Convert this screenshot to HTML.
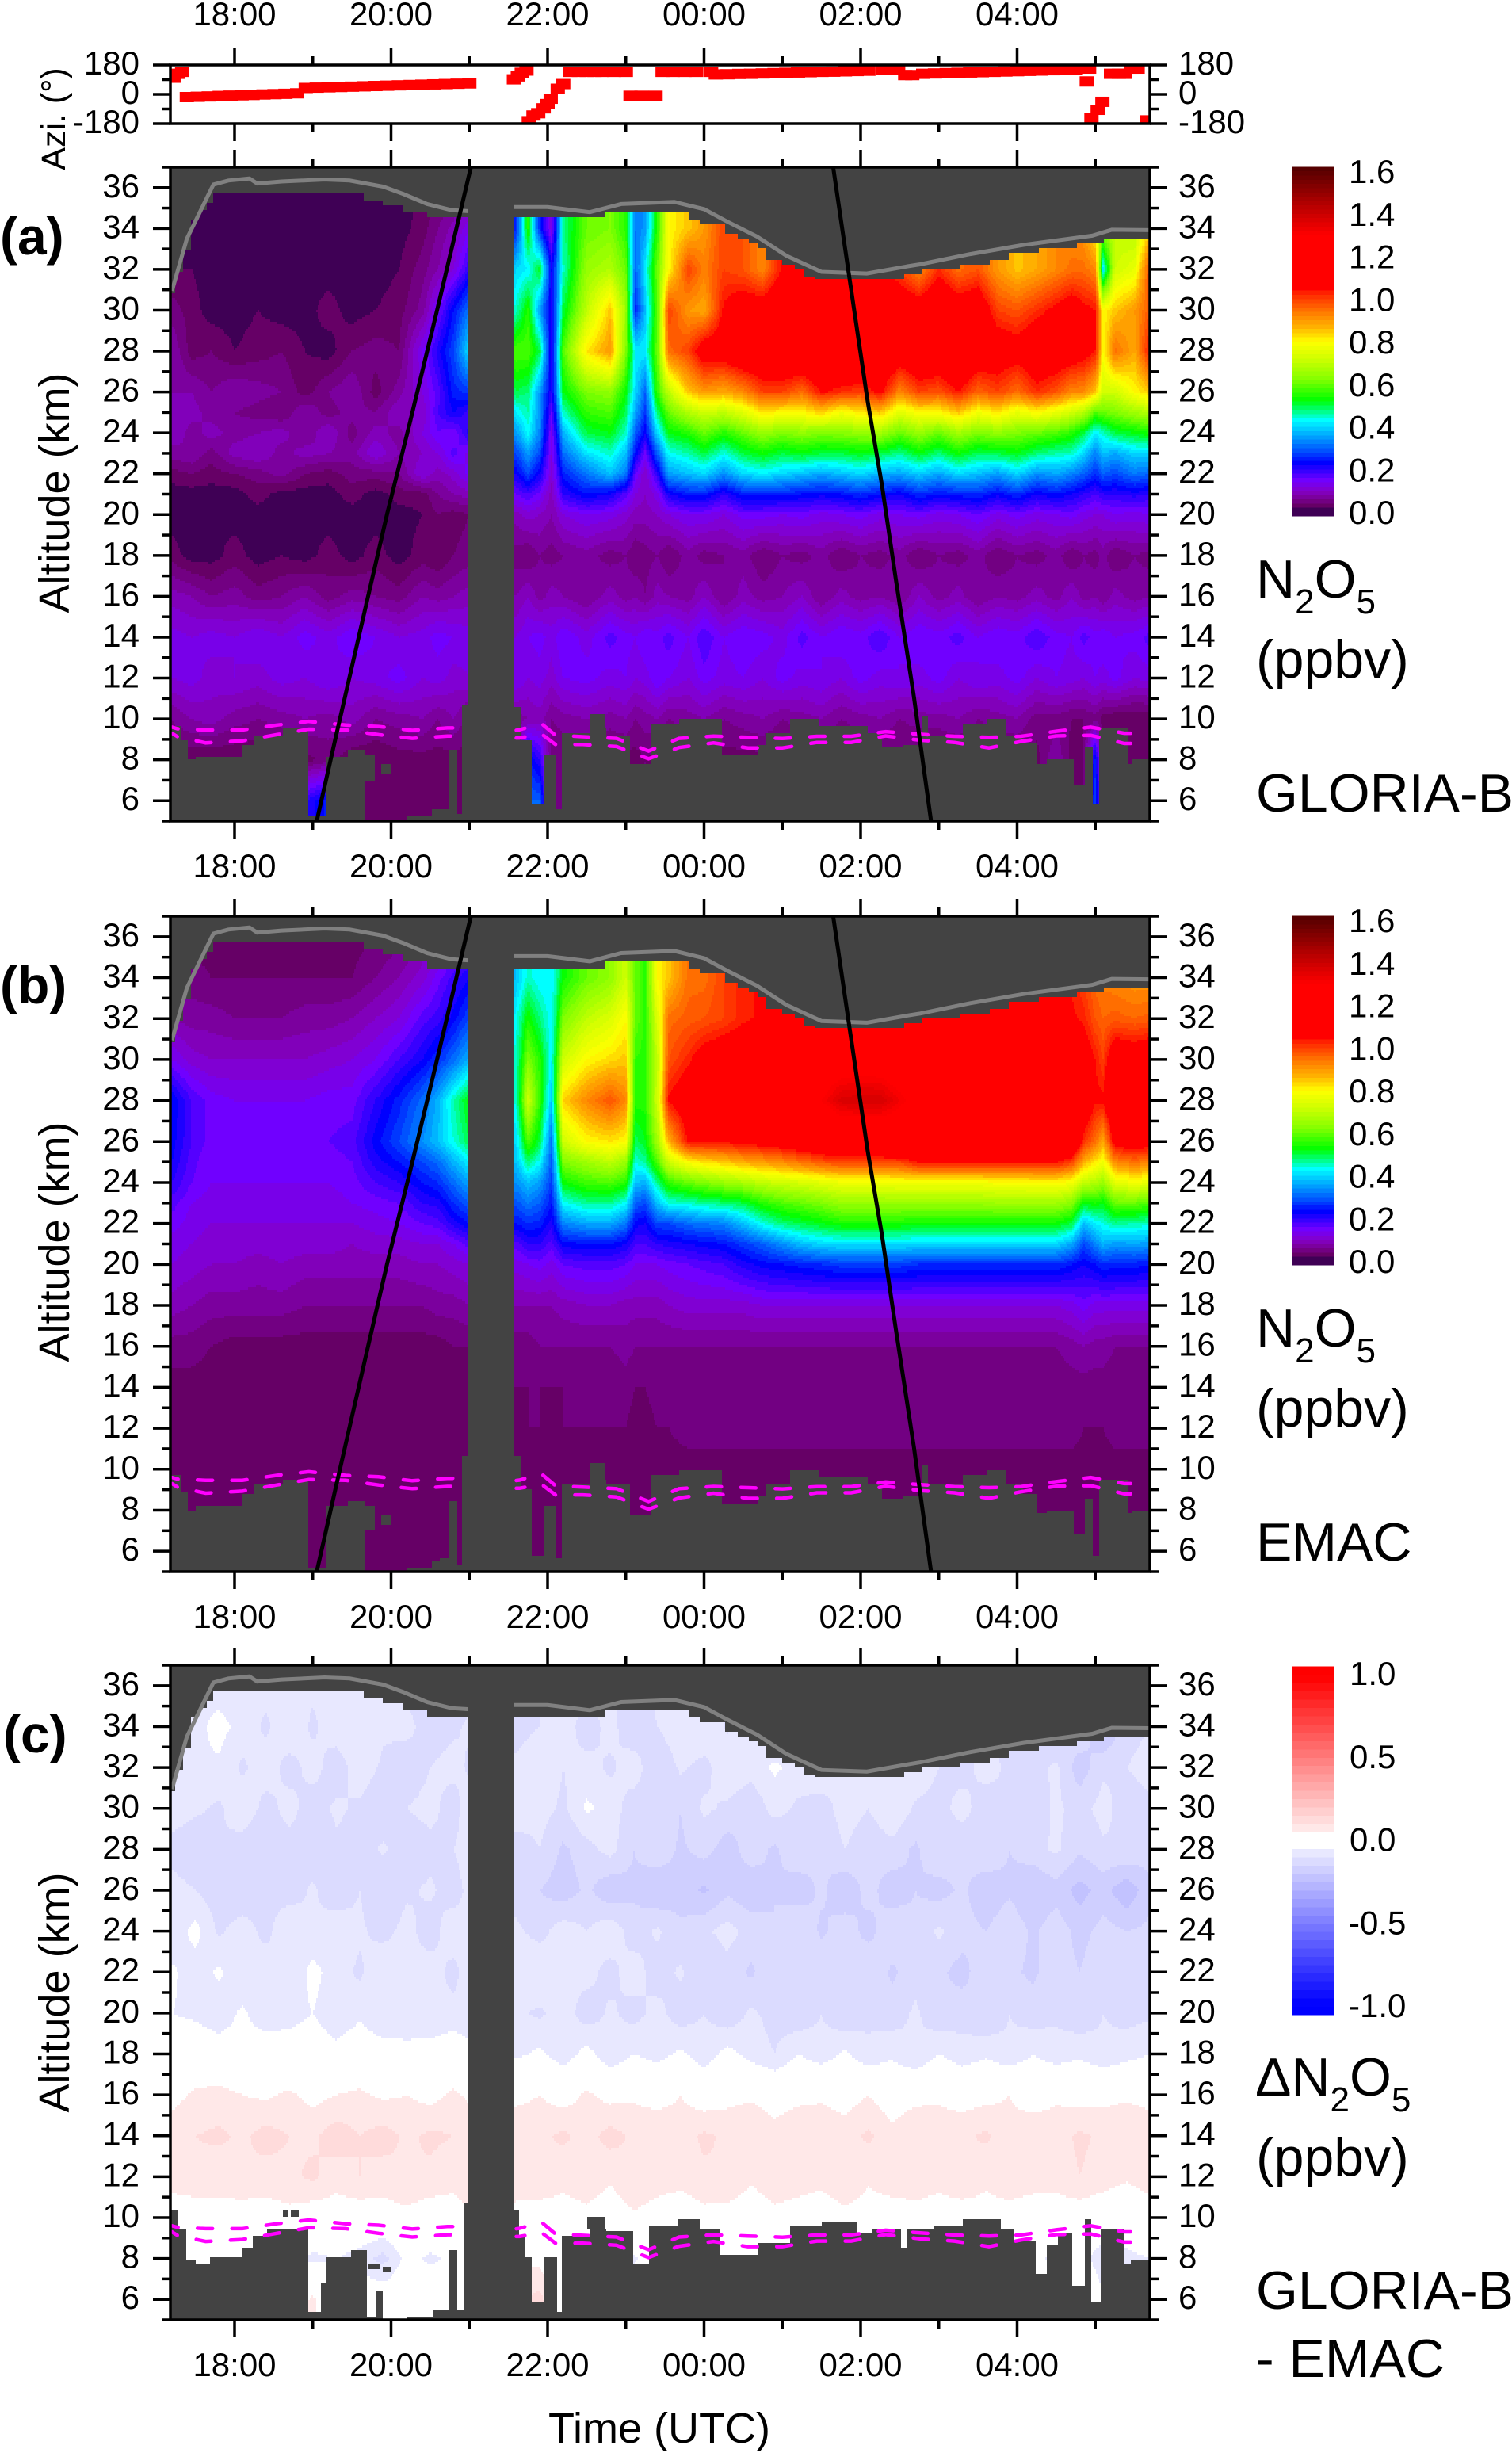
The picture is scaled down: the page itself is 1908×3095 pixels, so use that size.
<!DOCTYPE html>
<html lang="en">
<head>
<meta charset="utf-8">
<title>N2O5 curtains: GLORIA-B and EMAC</title>
<style>
html,body{margin:0;padding:0;background:#fff;}
svg{display:block;font-family:"Liberation Sans",Arial,sans-serif;}
text{fill:#000;}
</style>
</head>
<body>
<svg id="chart" width="1908" height="3095" viewBox="0 0 1908 3095">
  <rect x="0" y="0" width="1908" height="3095" fill="#fff"/>
  <g id="plots"></g>
  <text x="0" y="321" font-size="66" font-weight="bold">(a)</text>
  <text x="0" y="1266" font-size="66" font-weight="bold">(b)</text>
  <text x="4" y="2211" font-size="66" font-weight="bold">(c)</text>
  <text transform="translate(82,150) rotate(-90)" text-anchor="middle" font-size="43">Azi. (°)</text>
  <text transform="translate(87,622) rotate(-90)" text-anchor="middle" font-size="54">Altitude (km)</text>
  <text transform="translate(87,1567) rotate(-90)" text-anchor="middle" font-size="54">Altitude (km)</text>
  <text transform="translate(87,2514) rotate(-90)" text-anchor="middle" font-size="54">Altitude (km)</text>
  <text x="832" y="3082" text-anchor="middle" font-size="54">Time (UTC)</text>
  <text x="1585" y="754" font-size="68">N<tspan font-size="44" dy="20">2</tspan><tspan dy="-20">O</tspan><tspan font-size="44" dy="20">5</tspan></text>
  <text x="1585" y="855" font-size="68">(ppbv)</text>
  <text x="1585" y="1024" font-size="68">GLORIA-B</text>
  <text x="1585" y="1699" font-size="68">N<tspan font-size="44" dy="20">2</tspan><tspan dy="-20">O</tspan><tspan font-size="44" dy="20">5</tspan></text>
  <text x="1585" y="1800" font-size="68">(ppbv)</text>
  <text x="1585" y="1969" font-size="68">EMAC</text>
  <text x="1584" y="2644" font-size="68">&#916;N<tspan font-size="44" dy="20">2</tspan><tspan dy="-20">O</tspan><tspan font-size="44" dy="20">5</tspan></text>
  <text x="1585" y="2745" font-size="68">(ppbv)</text>
  <text x="1585" y="2913" font-size="68">GLORIA-B</text>
  <text x="1585" y="2999" font-size="68">- EMAC</text>
</svg>
<script>
// ---- axis labels ----
const xTickHours = [18,20,22,24,26,28];
const xTickLabels = ['18:00','20:00','22:00','00:00','02:00','04:00'];
const altTickValues = [6,8,10,12,14,16,18,20,22,24,26,28,30,32,34,36];
const aziTickValues = [180,0,-180];
const aziTickLabels = ['180','0','-180'];
const ratioBarLabels = ['0.0','0.2','0.4','0.6','0.8','1.0','1.2','1.4','1.6'];
const ratioBarValues = [0,20,40,60,80,100,120,140,160];
const deltaBarLabels = ['1.0','0.5','0.0','-0.5','-1.0'];
const deltaBarValues = [100,50,0,-50,-100];

// ---- azimuth series (degrees) ----
const aziHours = [17.22,17.28,17.33,17.39,17.53,17.67,17.81,17.95,18.09,18.23,18.37,18.51,18.65,18.8,18.91,19.05,19.2,19.35,19.5,19.65,19.8,19.95,20.1,20.25,20.4,20.55,20.7,20.85,21.0,21.57,21.62,21.67,21.73,21.76,21.82,21.88,21.95,22.0,22.04,22.13,22.2,22.29,22.4,22.5,22.6,22.7,22.85,23.0,23.06,23.2,23.38,23.47,23.6,23.75,23.9,24.09,24.15,24.3,24.45,24.6,24.75,24.9,25.05,25.2,25.35,25.5,25.65,25.8,25.95,26.1,26.29,26.38,26.48,26.57,26.66,26.8,26.95,27.1,27.25,27.4,27.55,27.7,27.85,28.0,28.15,28.3,28.45,28.6,28.75,28.92,28.89,28.95,29.03,29.09,29.2,29.3,29.38,29.46,29.54,29.66];
const aziValues = [102,126,138,-17,-15,-13,-10,-8,-6,-4,-1,1,3,6,39,41,43,45,47,49,51,53,55,57,59,61,63,65,67,92,110,132,146,-165,-130,-116,-86,-60,-27,34,63,138,138,138,138,138,138,138,-9,-9,-9,138,138,138,138,138,122,123,125,126,128,130,132,134,136,138,139,141,143,145,150,150,150,118,118,126,128,130,132,134,136,138,140,142,144,146,148,150,152,158,79,-146,-95,-46,126,126,126,158,158,-160];

// ---- overlay lines ----
const ceilingLineHoursLeft = [17.2,17.39,17.57,17.73,17.92,18.19,18.29,18.6,19.15,19.47,19.9,20.15,20.46,20.77,20.98];
const ceilingLineAltsLeft = [30.95,33.5,34.9,36.15,36.35,36.45,36.2,36.3,36.4,36.35,36.05,35.7,35.2,34.9,34.85];
const ceilingLineHoursRight = [21.57,22.0,22.54,22.94,23.62,24.0,24.28,24.68,25.05,25.5,26.08,26.6,26.76,27.4,28.08,28.96,29.21,29.7];
const ceilingLineAltsRight = [35.05,35.05,34.8,35.2,35.3,34.95,34.37,33.6,32.67,31.88,31.8,32.15,32.25,32.75,33.2,33.65,33.94,33.92];
const terminatorHoursEvening = [21.02,20.6,20.24,19.95,19.67,19.31,19.05];
const terminatorAltsEvening = [37,30.2,24.5,20.05,15.4,9.4,5];
const terminatorHoursMorning = [25.65,25.86,26.09,26.27,26.45,26.68,26.9];
const terminatorAltsMorning = [37,31.5,25.55,21.5,16.85,11.1,5];
const tropopauseHoursLeft = [17.2,17.27,17.63,18.10,18.54,18.95,19.42,19.84,20.27,20.72,20.84];
const tropopauseUpperLeft = [9.6,9.52,9.46,9.46,9.7,9.88,9.7,9.63,9.44,9.56,9.56];
const tropopauseLowerLeft = [9.3,9.13,8.83,8.93,9.23,9.5,9.46,9.23,9.05,9.16,9.16];
const tropopauseHoursRight = [21.6,21.64,21.92,22.1,22.45,22.88,23.29,23.68,24.12,24.56,25.0,25.44,25.88,26.32,26.76,27.2,27.64,28.05,28.5,28.94,29.37,29.45];
const tropopauseUpperRight = [9.45,9.47,9.78,9.2,9.13,9.05,8.43,9.05,9.16,9.1,9.04,9.15,9.15,9.38,9.25,9.15,9.1,9.15,9.4,9.6,9.3,9.3];
const tropopauseLowerRight = [9.07,9.07,9.27,8.75,8.75,8.65,8.05,8.6,8.83,8.58,8.58,8.85,8.85,9.17,8.96,8.85,8.58,8.9,9.17,9.2,8.8,8.8];

// ---- data coverage limits (step profiles) ----
const topHours = [17.2,17.25,17.35,17.45,17.55,17.65,17.73,19.65,19.9,20.15,20.46,20.55,21.57,22.72,23.8,23.95,24.27,24.44,24.57,24.69,24.8,25.0,25.15,25.28,25.43,26.55,26.78,27.26,27.65,27.9,28.28,28.76,29.1];
const topAlts = [30.8,31.9,32.9,34.4,34.9,35.3,35.75,35.4,35.1,34.75,34.5,34.5,34.5,34.75,34.48,34.22,33.77,33.5,33.25,33.0,32.48,32.2,32.03,31.7,31.5,31.75,32.03,32.26,32.5,32.78,33.04,33.27,33.5];
const floorHours = [17.2,17.32,17.4,17.5,18.1,18.25,18.61,18.94,19.16,19.44,19.68,20.19,20.53,20.63,20.74,20.84,20.91,21.57,21.65,21.8,21.95,22.1,22.19,22.54,22.75,23.06,23.32,23.68,24.22,24.69,24.8,25.09,25.46,26.09,26.27,26.54,26.77,26.86,27.31,27.62,27.85,28.08,28.26,28.37,28.73,28.87,28.96,29.05,29.41,29.48];
const floorAlts = [9.7,8.9,8.0,8.2,8.75,9.2,9.5,5.2,8.2,8.45,5.0,5.2,5.55,5.6,8.45,5.3,10.7,10.6,9.0,5.8,8.25,5.6,9.25,9.5,9.2,7.8,9.75,10,8.3,8.7,9.25,9.95,9.65,9.25,8.6,8.7,10.15,9.2,9.75,9.95,9.2,8.8,7.85,8,6.8,8.6,5.8,9.5,7.85,8];
const deltaFloorHours = [17.2,17.29,17.39,17.5,17.68,18.09,18.24,18.42,18.94,19.1,19.17,19.49,19.69,19.9,20.2,20.55,20.75,20.85,20.92,21.57,21.64,21.72,21.8,21.95,22.12,22.19,22.55,22.75,23.09,23.3,23.66,23.95,24.2,24.7,25.09,25.5,25.95,26.16,26.52,26.6,26.95,27.3,27.8,27.95,28.24,28.38,28.52,28.7,28.86,28.95,29.06,29.38,29.45];
const deltaFloorAlts = [10.4,9.4,8.0,7.7,8.1,8.5,9.1,9.4,5.4,6.8,8.1,8.4,5.15,5.0,5.15,5.5,8.4,5.5,10.7,10.4,9.1,8.1,5.85,8.1,5.4,9.15,9.4,9.3,7.7,9.6,9.9,9.5,8.2,8.7,9.6,9.75,9.2,9.4,8.5,9.4,9.6,9.9,9.5,8.85,7.2,8.6,9.2,6.7,9.9,5.8,9.4,7.7,7.9];
const gloriaHoleT0 = [19.67,19.88,22.54];
const gloriaHoleT1 = [19.80,20.0,22.72];
const gloriaHoleA0 = [7.0,7.3,9.5];
const gloriaHoleA1 = [8.25,7.75,10.25];
const deltaHoleT0 = [18.62,18.72,19.72,19.9,19.81,22.5];
const deltaHoleT1 = [18.68,18.82,19.85,20.0,19.89,22.72];
const deltaHoleA0 = [10.05,10.0,7.45,7.35,5.0,9.5];
const deltaHoleA1 = [10.4,10.4,7.7,7.6,6.4,10.0];

// ---- N2O5 curtains: hundredths of ppbv, one profile per time column ----
const profileHours = [17.2,17.45,17.7,18.0,18.3,18.6,18.9,19.2,19.5,19.8,20.1,20.4,20.6,20.8,21.0,21.6,21.75,21.9,22.05,22.2,22.5,22.8,23.0,23.12,23.25,23.4,23.55,23.8,24.0,24.25,24.5,24.75,25.0,25.25,25.5,25.75,26.0,26.25,26.5,26.75,27.0,27.25,27.5,27.75,28.0,28.25,28.5,28.7,28.85,29.0,29.1,29.25,29.5,29.7];
const profileAlts = [6,8,10,12,14,16,18,20,21,22,23,24,25,26,28,30,32,34,36];
const gloriaProfiles = [
[4,4,6,12,13,9,3,1,1,3,7,10,9,8,8,5,2,1,1],
[3,2,8,13,12,8,1,1,1,4,8,7,9,8,3,3,2,1,1],
[3,2,9,11,13,6,1,2,1,3,5,9,7,6,4,1,1,1,1],
[2,2,7,12,12,7,3,1,1,4,9,7,6,8,2,1,1,1,1],
[2,2,6,11,14,5,1,1,3,5,10,8,5,7,3,2,1,1,1],
[2,2,7,13,12,6,2,1,1,7,7,9,4,6,4,1,2,1,1],
[20,3,8,12,15,8,1,1,1,4,9,6,8,3,2,1,1,1,1],
[25,5,7,14,13,5,3,1,1,3,8,10,5,6,1,3,1,1,1],
[2,2,9,12,16,7,1,1,3,5,7,5,7,8,4,1,1,1,1],
[3,2,6,13,14,6,3,1,1,5,12,9,6,3,5,2,1,1,1],
[3,3,7,15,12,5,1,1,3,6,8,7,10,7,4,3,2,1,1],
[3,3,8,12,13,8,3,2,3,12,10,12,10,12,14,7,5,3,2],
[3,3,6,13,15,7,2,4,6,9,12,16,18,17,21,15,8,6,3],
[3,3,8,11,14,8,4,3,8,11,17,14,22,25,28,24,12,9,4],
[3,3,5,12,13,9,5,4,9,15,13,21,19,27,41,32,20,14,5],
[4,4,7,14,12,8,5,9,16,22,28,35,42,50,58,45,40,25,25],
[30,25,8,12,14,10,4,11,18,28,35,43,46,48,58,55,42,55,55],
[30,20,9,13,15,7,6,10,15,22,28,33,34,35,50,35,52,25,25],
[4,4,6,11,13,9,5,8,9,11,12,13,16,20,20,20,22,12,12],
[6,4,7,14,16,8,6,12,20,25,31,37,45,52,58,50,45,47,47],
[3,3,8,15,13,6,7,14,24,32,41,50,56,62,82,70,65,60,60],
[3,3,7,13,17,9,5,13,22,38,45,52,58,64,90,85,68,62,62],
[4,3,8,14,15,7,6,11,17,32,38,45,49,53,62,65,60,55,55],
[4,3,6,12,14,8,4,9,12,16,24,30,36,40,42,25,30,32,32],
[5,4,7,13,16,6,5,9,10,10,15,22,26,30,42,38,42,35,35],
[4,3,8,16,15,9,6,10,13,20,30,40,48,56,60,58,60,55,55],
[3,3,6,14,17,8,4,12,22,35,43,52,60,70,95,100,80,80,80],
[3,3,7,12,14,7,7,14,25,38,46,55,68,85,100,90,100,85,85],
[3,3,8,15,18,10,5,14,25,40,50,60,72,90,110,88,93,90,90],
[3,3,6,13,14,6,6,12,20,34,44,55,70,88,110,105,100,100,100],
[3,3,7,14,16,9,7,15,25,40,50,60,75,92,115,110,98,98,98],
[3,3,8,12,15,7,4,15,25,42,53,65,82,100,115,110,92,92,92],
[3,3,6,15,13,8,6,14,25,40,50,62,80,100,115,115,105,105,105],
[3,3,7,13,17,10,5,15,24,38,52,64,80,95,118,115,110,110,110],
[3,3,8,14,14,6,7,13,23,36,50,62,84,105,115,118,108,108,108],
[3,3,6,12,16,9,4,14,24,38,50,63,78,102,118,116,105,105,105],
[3,3,7,15,15,7,6,15,26,40,52,64,82,100,120,118,108,108,108],
[3,3,8,13,18,8,5,13,24,37,50,66,85,106,116,115,104,104,104],
[3,3,6,14,14,6,7,14,22,36,47,60,75,92,112,112,100,100,100],
[3,3,7,13,16,10,4,15,26,39,52,65,80,100,115,110,92,92,92],
[3,3,7,15,15,7,6,13,24,36,48,60,80,98,114,115,102,102,102],
[3,3,8,12,17,9,5,14,25,40,53,66,85,104,118,110,95,95,95],
[3,3,6,14,14,6,7,16,26,38,49,62,78,96,112,112,98,98,98],
[3,3,7,13,16,8,4,13,23,35,50,64,82,100,110,100,90,90,90],
[3,3,8,15,15,7,6,15,26,40,52,62,76,95,108,98,85,85,85],
[4,3,5,12,18,9,5,13,22,34,48,60,80,102,112,102,88,88,88],
[7,8,5,14,15,7,7,14,24,36,46,58,76,98,112,106,92,92,92],
[3,3,4,13,14,10,4,15,22,33,45,55,72,92,110,110,95,92,92],
[4,4,4,12,17,7,6,13,20,30,40,50,68,92,108,106,95,90,90],
[28,25,5,14,15,8,5,12,18,26,33,42,58,85,104,104,92,80,80],
[5,3,3,13,16,6,7,12,20,30,38,45,60,72,80,80,40,65,65],
[3,2,2,15,14,9,4,14,20,28,36,50,62,72,95,85,72,70,70],
[2,2,2,12,15,7,6,13,21,32,40,52,66,80,88,90,76,68,68],
[2,2,2,13,17,8,5,14,20,30,40,54,68,85,105,98,100,85,85]
];
const emacProfiles = [
[3,3,3,3,3,5,9,12,13,15,17,20,22,23,24,14,8,5,4],
[3,3,3,3,3,5,8,11,12,13,14,16,17,18,18,11,7,5,3],
[3,3,3,3,3,4,7,10,11,12,13,14,14,15,15,10,7,4,3],
[3,3,3,3,3,3,7,10,11,12,13,14,15,15,14,10,6,4,3],
[3,3,3,3,3,3,7,9,11,12,13,14,15,15,14,10,6,4,3],
[3,3,3,3,3,3,7,10,11,12,13,14,15,15,14,10,6,4,3],
[3,3,3,3,3,3,6,9,11,12,13,14,15,15,14,10,7,4,3],
[3,3,3,3,3,3,6,9,11,12,13,14,15,16,15,11,7,4,3],
[3,3,3,3,3,3,6,9,10,12,14,15,16,17,15,12,8,4,3],
[3,3,3,3,3,3,6,9,11,13,15,18,21,23,20,14,10,6,4],
[3,3,3,3,3,3,6,9,11,14,16,20,24,28,25,18,12,8,5],
[3,3,3,3,3,3,6,10,12,16,20,24,28,34,31,22,17,11,8],
[3,3,3,3,3,3,7,10,12,17,21,26,31,38,37,26,19,15,9],
[3,3,3,3,3,4,7,11,14,21,26,31,37,44,46,31,23,19,12],
[3,3,3,3,3,4,8,12,17,24,30,36,42,50,53,37,28,22,15],
[3,3,3,3,4,5,8,13,17,24,29,34,38,40,44,45,43,38,38],
[3,3,3,4,4,5,8,14,20,26,32,38,48,58,72,62,54,45,45],
[3,3,3,4,4,6,8,15,20,25,30,35,43,50,56,55,48,42,42],
[3,3,3,3,4,6,8,13,17,21,24,27,29,31,38,42,42,42,42],
[3,3,3,4,4,6,9,16,23,33,43,53,62,72,84,72,62,53,53],
[3,3,3,4,4,6,10,17,24,36,47,57,66,80,92,80,70,60,60],
[3,3,3,4,4,6,10,17,24,36,47,58,70,82,98,83,74,64,64],
[3,3,3,4,5,7,9,16,22,32,43,55,65,80,92,85,80,72,72],
[3,3,3,3,4,6,9,14,18,23,30,38,44,49,55,56,60,60,60],
[3,3,3,3,4,6,9,14,18,22,28,37,47,52,55,55,55,55,55],
[3,3,3,4,5,6,9,14,20,28,38,47,58,66,72,70,74,80,80],
[3,3,3,4,5,6,10,15,21,28,44,56,72,87,105,98,95,85,85],
[3,3,3,5,5,6,11,16,22,31,45,60,80,105,110,103,97,95,95],
[3,3,3,5,5,6,11,17,23,32,47,62,83,105,112,108,98,95,95],
[3,3,3,5,5,6,11,18,24,33,48,65,85,105,115,110,100,100,100],
[3,3,3,5,5,6,11,21,27,38,50,67,88,107,118,112,103,103,103],
[3,3,3,5,5,6,12,23,30,44,55,70,90,108,120,114,105,105,105],
[3,3,3,5,5,6,12,24,34,48,58,72,92,110,122,116,108,108,108],
[3,3,3,5,5,6,12,25,38,50,60,73,95,112,125,118,110,110,110],
[3,3,3,5,5,6,12,26,40,52,62,75,98,115,130,122,112,112,112],
[3,3,3,5,5,6,12,27,41,54,65,77,100,118,137,124,113,113,113],
[3,3,3,5,5,6,12,27,41,54,65,77,100,118,138,125,113,113,113],
[3,3,3,5,5,6,12,27,41,54,65,77,100,118,138,124,113,113,113],
[3,3,3,5,5,6,12,27,41,54,65,78,100,120,132,122,112,112,112],
[3,3,3,5,5,6,12,26,40,53,65,78,105,120,125,120,110,110,110],
[3,3,3,5,5,6,12,26,40,53,65,78,105,120,127,121,110,110,110],
[3,3,3,5,5,6,12,26,40,53,65,78,105,120,128,122,111,111,111],
[3,3,3,5,5,6,12,26,40,53,65,78,105,120,127,121,110,110,110],
[3,3,3,5,5,6,12,26,40,53,66,79,105,120,125,120,110,110,110],
[3,3,3,5,5,6,12,26,40,53,66,79,105,120,125,120,110,108,108],
[3,3,3,5,5,6,12,26,40,53,66,80,105,120,124,120,110,108,108],
[3,3,3,5,5,6,12,26,40,53,66,80,105,120,124,120,110,108,108],
[3,3,3,5,5,7,13,24,36,50,63,78,100,118,122,118,105,103,103],
[3,3,3,4,5,8,15,22,28,38,52,70,88,102,112,110,103,100,100],
[3,3,3,4,5,7,13,24,33,42,54,68,82,95,105,104,98,95,95],
[3,3,3,4,5,7,13,26,37,44,52,65,78,88,105,100,96,93,93],
[3,3,3,5,5,6,13,25,35,47,60,75,92,108,118,112,97,92,92],
[3,3,3,5,5,6,13,25,36,46,60,78,95,110,115,110,96,90,90],
[3,3,3,5,5,6,13,24,35,45,58,76,93,108,116,112,97,90,90]
];

// ---- difference curtain: hundredths of ppbv ----
const deltaHours = [17.2,17.5,17.8,18.1,18.4,18.7,19,19.3,19.6,19.9,20.2,20.5,20.8,21,21.6,21.9,22.2,22.5,22.8,23.1,23.4,23.7,24,24.3,24.6,24.9,25.2,25.5,25.8,26.1,26.4,26.7,27,27.3,27.6,27.9,28.2,28.5,28.8,29.1,29.4,29.7];
const deltaAlts = [6,8,10,12,14,16,18,20,22,24,26,28,30,32,34,36];
const deltaProfiles = [
[0,0,2,7,8,3,-2,-5,-4,-9,-8,-12,-7,-6,-6,-6],
[-2,-3,1,9,10,6,-1,-6,-8,-3,-10,-14,-9,-5,-7,-6],
[0,-5,3,7,11,7,-2,-8,-4,-11,-13,-10,-11,-6,-3,-8],
[0,-4,1,10,9,5,-3,-4,-10,-7,-15,-13,-6,-11,-7,-9],
[0,-3,2,8,12,4,0,-9,-6,-12,-11,-15,-12,-7,-11,-8],
[0,-4,3,9,10,6,-2,-7,-10,-5,-13,-12,-8,-12,-6,-7],
[6,-6,1,11,9,3,-1,-5,-3,-10,-9,-14,-13,-8,-11,-9],
[0,-5,2,7,13,5,-3,-9,-8,-6,-14,-11,-9,-13,-7,-6],
[0,-7,1,10,10,6,-1,-6,-11,-9,-10,-13,-11,-7,-6,-8],
[0,-12,2,8,12,4,-2,-10,-5,-12,-15,-9,-14,-11,-9,-7],
[0,-3,3,10,9,5,-4,-7,-9,-8,-11,-14,-10,-14,-8,-12],
[0,-6,1,9,11,3,-2,-10,-7,-13,-9,-12,-8,-10,-13,-14],
[0,-4,2,7,10,6,-1,-8,-12,-6,-13,-10,-13,-8,-11,-13],
[0,-3,4,9,8,4,-3,-9,-6,-10,-8,-7,-6,-11,-9,-13],
[8,5,3,8,10,3,-6,-9,-6,-9,-12,-14,-5,-9,-12,-12],
[12,3,1,10,9,5,-4,-11,-5,-12,-15,-10,-8,-6,-10,-10],
[0,-2,2,7,11,2,-8,-7,-9,-7,-18,-16,-11,-10,-7,-8],
[0,-3,3,9,8,6,-3,-13,-8,-10,-14,-12,-4,-8,-13,-6],
[0,-4,1,6,12,3,-9,-9,-12,-6,-19,-8,-7,-11,-8,-10],
[0,-6,4,10,9,4,-5,-12,-7,-13,-16,-15,-13,-7,-14,-12],
[0,0,2,8,10,2,-7,-8,-13,-9,-20,-11,-10,-15,-10,-9],
[0,0,1,7,8,5,-4,-13,-9,-14,-17,-16,-15,-9,-6,-5],
[0,0,3,9,11,1,-8,-10,-15,-11,-21,-13,-9,-12,-5,-7],
[0,-3,2,10,9,3,-3,-14,-12,-8,-16,-18,-11,-6,-11,-11],
[0,-4,1,6,10,4,-7,-9,-16,-12,-19,-12,-14,-8,-6,-6],
[0,0,3,9,7,2,-10,-12,-10,-15,-15,-16,-8,-4,-11,-11],
[0,0,2,8,10,3,-5,-14,-14,-10,-18,-11,-11,-7,-7,-7],
[0,0,1,7,9,4,-8,-10,-11,-16,-14,-15,-13,-5,-6,-6],
[0,0,3,10,8,2,-4,-15,-15,-12,-19,-10,-7,-11,-11,-11],
[0,-3,2,6,11,5,-9,-11,-10,-17,-13,-14,-10,-7,-7,-7],
[0,-4,1,9,7,1,-6,-13,-16,-11,-18,-12,-5,-9,-9,-9],
[0,-3,3,8,10,3,-10,-9,-12,-14,-15,-16,-11,-6,-6,-6],
[0,0,2,7,8,4,-5,-14,-14,-9,-17,-11,-12,-10,-10,-10],
[0,0,1,10,9,2,-8,-12,-17,-13,-14,-14,-8,-12,-12,-12],
[0,0,3,6,11,3,-6,-15,-11,-15,-19,-10,-13,-8,-8,-8],
[0,0,2,9,7,5,-9,-10,-14,-11,-16,-15,-10,-11,-14,-14],
[0,-4,1,8,10,1,-5,-13,-16,-16,-20,-12,-13,-12,-10,-10],
[0,-6,2,7,8,4,-8,-11,-12,-12,-17,-9,-9,-9,-16,-16],
[5,-3,1,10,11,2,-6,-14,-15,-17,-22,-14,-12,-18,-10,-10],
[-5,-8,0,8,9,3,-9,-10,-11,-13,-18,-11,-8,-11,-22,-22],
[0,-6,-2,6,10,4,-7,-12,-14,-15,-24,-10,-13,-10,-12,-12],
[0,-5,0,9,8,3,-5,-11,-10,-14,-16,-13,-11,-8,-10,-10]
];

// ---- geometry + scales ----
const plotLeft = 215, plotRight = 1451;
const svgURI = document.getElementById('chart').namespaceURI;
const plots = document.getElementById('plots');
function xOf(h){ return 296 + (h - 18) * 98.75; }
function hourOf(x){ return 18 + (x - 296) / 98.75; }
function yOfAlt(a, top, bot){ return top + (37 - a) * (bot - top) / 32; }
function altOfY(y, top, bot){ return 37 - (y - top) * 32 / (bot - top); }
function yOfAzi(d){ return 119 - d * 37 / 180; }
function mk(tag, attrs, parent){
  const e = document.createElementNS(svgURI, tag);
  for (const k in attrs) e.setAttribute(k, attrs[k]);
  (parent || plots).appendChild(e);
  return e;
}
function stepAt(hs, vs, t){
  let v = vs[0];
  for (let i = 0; i < hs.length; i++) { if (hs[i] <= t) v = vs[i]; else break; }
  return v;
}
function lowerIndex(arr, v){
  let i = 0;
  while (i < arr.length - 2 && arr[i + 1] <= v) i++;
  return i;
}
function sampleGrid(hours, alts, profiles, t, a){
  const i = lowerIndex(hours, t), j = lowerIndex(alts, a);
  let ft = (t - hours[i]) / (hours[i + 1] - hours[i]);
  let fa = (a - alts[j]) / (alts[j + 1] - alts[j]);
  ft = Math.max(0, Math.min(1, ft));
  fa = Math.max(0, Math.min(1, fa));
  const p = profiles[i], q = profiles[i + 1];
  const v0 = p[j] * (1 - fa) + p[j + 1] * fa;
  const v1 = q[j] * (1 - fa) + q[j + 1] * fa;
  return v0 * (1 - ft) + v1 * ft;
}

// ---- colour scales ----
const ratioStopValues = [0,1.5,3,6,10,15,23,30,38,43,47,52.5,62,72,80,87,93,100,103,103.5,130,145,162];
const ratioStopColors = ['#3f0055','#3f0055','#660066','#780090','#8400c8','#7000ff','#0000ff','#0060ff','#00c0ff','#00ffff','#00ff90','#00ff00','#80ff00','#d0ff00','#ffff00','#ffb000','#ff8000','#ff4000','#ff2000','#ff0000','#ff0000','#b00000','#500000'];
function hexRGB(h){ return [parseInt(h.substr(1,2),16), parseInt(h.substr(3,2),16), parseInt(h.substr(5,2),16)]; }
function ratioColor(v){
  if (v <= ratioStopValues[0]) return ratioStopColors[0];
  for (let i = 1; i < ratioStopValues.length; i++) {
    if (v <= ratioStopValues[i]) {
      const f = (v - ratioStopValues[i-1]) / (ratioStopValues[i] - ratioStopValues[i-1]);
      const a = hexRGB(ratioStopColors[i-1]), b = hexRGB(ratioStopColors[i]);
      return 'rgb(' + Math.round(a[0]+(b[0]-a[0])*f) + ',' + Math.round(a[1]+(b[1]-a[1])*f) + ',' + Math.round(a[2]+(b[2]-a[2])*f) + ')';
    }
  }
  return ratioStopColors[ratioStopColors.length - 1];
}
function ratioLevel(v){ return Math.floor(v / 2) * 2 + 1; }
function deltaLevel(v){
  const q = Math.abs(v);
  if (q < 5) return 0;
  return (v < 0 ? -1 : 1) * (Math.floor(q / 5) * 5 + 4);
}
function deltaColor(l){
  const f = Math.min(1, Math.abs(l) / 100), c = Math.round(255 * (1 - f));
  if (l === 0) return '#ffffff';
  return l > 0 ? 'rgb(255,' + c + ',' + c + ')' : 'rgb(' + c + ',' + c + ',255)';
}

// ---- curtain drawing: one path per contour level ----
function drawCurtain(top, bot, hours, alts, profiles, floorH, floorA, hT0, hT1, hA0, hA1, levelOf, colorOf){
  const bg = mk('rect', {x: plotLeft, y: top, width: plotRight - plotLeft, height: bot - top, fill: '#434343'});
  
  
  const bands = new Map();
  const cw = 2, ch = 3;
  for (let y = top; y < bot; y += ch) {
    const a = altOfY(y + ch / 2, top, bot);
    let cur = null, start = 0;
    const flush = function(xEnd){
      if (cur === null) return;
      bands.set(cur, (bands.get(cur) || '') + 'M' + start + ' ' + y + 'h' + (xEnd - start) + 'v' + ch + 'h' + (start - xEnd) + 'z');
    };
    for (let x = plotLeft; x < plotRight; x += cw) {
      const t = hourOf(x + cw / 2);
      let ok = (t <= 20.98) || (t >= 21.575);
      if (ok && a > stepAt(topHours, topAlts, t)) ok = false;
      if (ok && a < stepAt(floorH, floorA, t)) ok = false;
      if (ok) {
        for (let k = 0; k < hT0.length; k++) {
          if (t >= hT0[k] && t <= hT1[k] && a >= hA0[k] && a <= hA1[k]) { ok = false; break; }
        }
      }
      const lvl = ok ? levelOf(sampleGrid(hours, alts, profiles, t, a)) : null;
      if (lvl !== cur) { flush(x); cur = lvl; start = x; }
    }
    flush(plotRight);
  }
  const g = mk('g', {});
  
  
  bands.forEach(function(d, lvl){
    const p = mk('path', {d: d, fill: colorOf(lvl), 'shape-rendering': 'crispEdges'}, g);
    
    
  });
}
function linePath(hs, as, top, bot){
  let d = '';
  for (let i = 0; i < hs.length; i++) d += (i ? 'L' : 'M') + xOf(hs[i]).toFixed(1) + ' ' + yOfAlt(as[i], top, bot).toFixed(1);
  return d;
}
function drawOverlays(top, bot, withTerminator){
  const up1 = mk('path', {d: linePath(tropopauseHoursLeft, tropopauseUpperLeft, top, bot), fill: 'none', stroke: '#ff00ff', 'stroke-width': 4.5, 'stroke-linecap': 'round', 'stroke-dasharray': '19 24.5', 'stroke-dashoffset': 11});
  
  
  const lo1 = mk('path', {d: linePath(tropopauseHoursLeft, tropopauseLowerLeft, top, bot), fill: 'none', stroke: '#ff00ff', 'stroke-width': 4.5, 'stroke-linecap': 'round', 'stroke-dasharray': '19 24.5', 'stroke-dashoffset': 11});
  
  
  const up2 = mk('path', {d: linePath(tropopauseHoursRight, tropopauseUpperRight, top, bot), fill: 'none', stroke: '#ff00ff', 'stroke-width': 4.5, 'stroke-linecap': 'round', 'stroke-dasharray': '19 24.5', 'stroke-dashoffset': 8});
  
  
  const lo2 = mk('path', {d: linePath(tropopauseHoursRight, tropopauseLowerRight, top, bot), fill: 'none', stroke: '#ff00ff', 'stroke-width': 4.5, 'stroke-linecap': 'round', 'stroke-dasharray': '19 24.5', 'stroke-dashoffset': 8});
  
  
  const c1 = mk('path', {d: linePath(ceilingLineHoursLeft, ceilingLineAltsLeft, top, bot), fill: 'none', stroke: '#808080', 'stroke-width': 5});
  
  
  const c2 = mk('path', {d: linePath(ceilingLineHoursRight, ceilingLineAltsRight, top, bot), fill: 'none', stroke: '#808080', 'stroke-width': 5});
  
  
  if (withTerminator) {
    const t1 = mk('path', {d: linePath(terminatorHoursEvening, terminatorAltsEvening, top, bot), fill: 'none', stroke: '#000', 'stroke-width': 5});
    
    
    const t2 = mk('path', {d: linePath(terminatorHoursMorning, terminatorAltsMorning, top, bot), fill: 'none', stroke: '#000', 'stroke-width': 5});
    
    
  }
}
function tick(x1, y1, x2, y2){
  const l = mk('line', {x1: x1, y1: y1, x2: x2, y2: y2, stroke: '#000', 'stroke-width': 3.5});
  
  
}
function drawFrame(top, bot){
  const r = mk('rect', {x: plotLeft, y: top, width: plotRight - plotLeft, height: bot - top, fill: 'none', stroke: '#000', 'stroke-width': 3.5});
  
  
  for (let h = 18; h <= 29; h++) {
    const len = h % 2 === 0 ? 22 : 11, x = xOf(h);
    tick(x, top, x, top - len);
    tick(x, bot, x, bot + len);
  }
}
function drawXLabels(y){
  xTickHours.forEach(function(h, i){
    const t = mk('text', {x: xOf(h), y: y, 'text-anchor': 'middle', 'font-size': 42});
    t.textContent = xTickLabels[i];
    
    
  });
}
function drawAltAxis(top, bot){
  for (let a = 5; a <= 37; a++) {
    const len = a % 2 === 0 ? 22 : 11, y = yOfAlt(a, top, bot);
    tick(plotLeft, y, plotLeft - len, y);
    tick(plotRight, y, plotRight + len, y);
  }
  altTickValues.forEach(function(a){
    const y = yOfAlt(a, top, bot) + 12;
    const t = mk('text', {x: 176, y: y, 'text-anchor': 'end', 'font-size': 42});
    t.textContent = String(a);
    
    
    const u = mk('text', {x: 1487, y: y, 'font-size': 42});
    u.textContent = String(a);
    
    
  });
}
function drawRatioBar(offset){
  function cy(v){ return offset + 646 - (v / 160) * 430; }
  for (let lvl = -1; lvl <= 161; lvl += 2) {
    const r = mk('rect', {x: 1630, y: cy(lvl + 1), width: 54, height: cy(lvl - 1) - cy(lvl + 1), fill: ratioColor(lvl), 'shape-rendering': 'crispEdges'});
    
    
  }
  ratioBarValues.forEach(function(v, i){
    const t = mk('text', {x: 1702, y: cy(v) + 15, 'font-size': 42});
    t.textContent = ratioBarLabels[i];
    
    
  });
}
function drawDeltaBar(){
  function cy(v){ return 2322.5 - (v / 100) * 209.5; }
  for (let v = -105; v < 105; v += 5) {
    const r = mk('rect', {x: 1630, y: cy(v + 5), width: 54, height: cy(v) - cy(v + 5), fill: deltaColor(deltaLevel(v + 2.5)), 'shape-rendering': 'crispEdges'});
    
    
  }
  deltaBarValues.forEach(function(v, i){
    const t = mk('text', {x: v < 0 ? 1702 : 1703, y: cy(v) + 13, 'font-size': 42});
    t.textContent = deltaBarLabels[i];
    
    
  });
}

// ---- azimuth strip ----
(function(){
  const top = 82, bot = 156;
  const clip = mk('clipPath', {id: 'azi-clip'});
  mk('rect', {x: plotLeft, y: top, width: plotRight - plotLeft, height: bot - top}, clip);
  const g = mk('g', {'clip-path': 'url(#azi-clip)'});
  
  
  aziHours.forEach(function(h, i){
    const m = mk('rect', {x: xOf(h) - 9, y: yOfAzi(aziValues[i]) - 6.5, width: 18, height: 13, fill: '#ff0000'}, g);
    
    
  });
  drawFrame(top, bot);
  drawXLabels(32);
  [180, 90, 0, -90, -180].forEach(function(d){
    const len = d % 180 === 0 ? 22 : 11, y = yOfAzi(d);
    tick(plotLeft, y, plotLeft - len, y);
    tick(plotRight, y, plotRight + len, y);
  });
  aziTickValues.forEach(function(d, i){
    const y = yOfAzi(d) + 12;
    const t = mk('text', {x: 176, y: y, 'text-anchor': 'end', 'font-size': 42});
    t.textContent = aziTickLabels[i];
    
    
    const u = mk('text', {x: 1487, y: y, 'font-size': 42});
    u.textContent = aziTickLabels[i];
    
    
  });
})();

// ---- panels ----
drawCurtain(211, 1036, profileHours, profileAlts, gloriaProfiles, floorHours, floorAlts, gloriaHoleT0, gloriaHoleT1, gloriaHoleA0, gloriaHoleA1, ratioLevel, ratioColor);
drawOverlays(211, 1036, true);
drawFrame(211, 1036);
drawAltAxis(211, 1036);
drawXLabels(1107);
drawRatioBar(0);

drawCurtain(1156, 1983, profileHours, profileAlts, emacProfiles, floorHours, floorAlts, gloriaHoleT0, gloriaHoleT1, gloriaHoleA0, gloriaHoleA1, ratioLevel, ratioColor);
drawOverlays(1156, 1983, true);
drawFrame(1156, 1983);
drawAltAxis(1156, 1983);
drawXLabels(2054);
drawRatioBar(945);

drawCurtain(2101, 2927, deltaHours, deltaAlts, deltaProfiles, deltaFloorHours, deltaFloorAlts, deltaHoleT0, deltaHoleT1, deltaHoleA0, deltaHoleA1, deltaLevel, deltaColor);
drawOverlays(2101, 2927, false);
drawFrame(2101, 2927);
drawAltAxis(2101, 2927);
drawXLabels(2998);
drawDeltaBar();
</script>
</body>
</html>
